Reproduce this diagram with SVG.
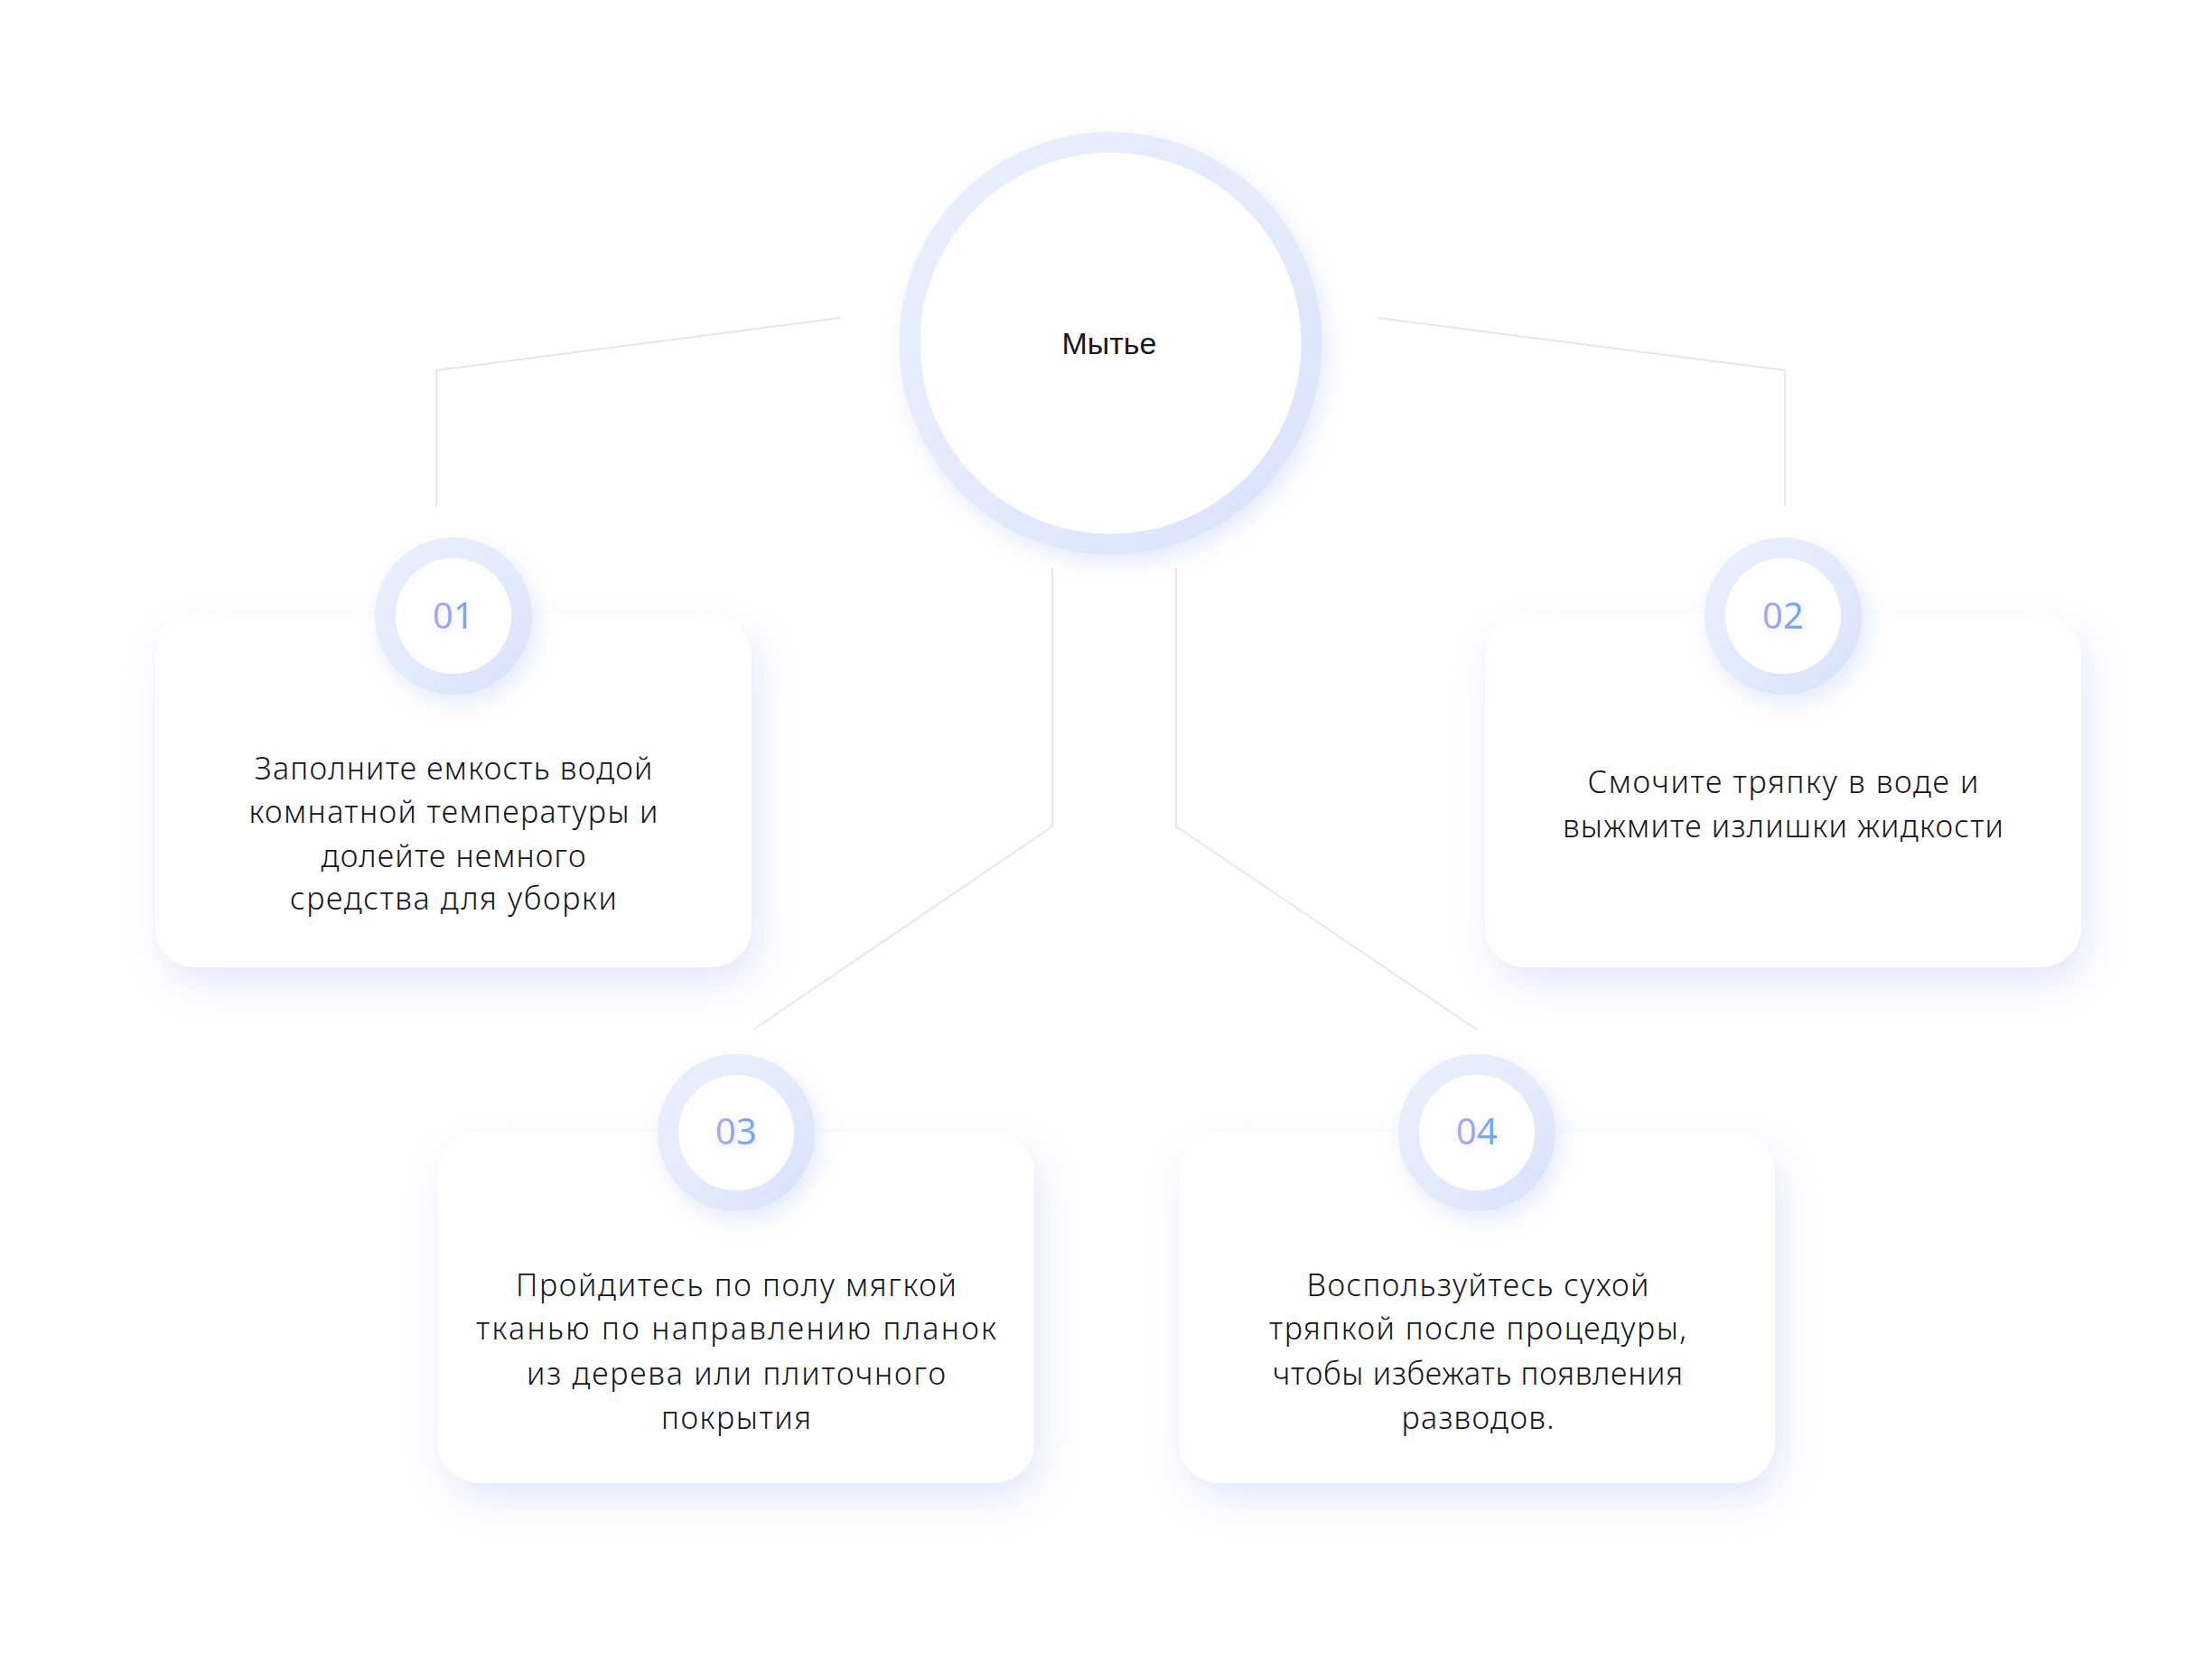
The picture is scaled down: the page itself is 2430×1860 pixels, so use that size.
<svg xmlns="http://www.w3.org/2000/svg" width="2430" height="1860" viewBox="0 0 2430 1860">
<defs>
<linearGradient id="ringG" x1="0" y1="0" x2="1" y2="1">
<stop offset="0" stop-color="#e9effd"/>
<stop offset="0.55" stop-color="#e4eafd"/>
<stop offset="1" stop-color="#d9e1fc"/>
</linearGradient>
<linearGradient id="numG" x1="0" y1="0" x2="1" y2="0">
<stop offset="0" stop-color="#bba2f7"/>
<stop offset="1" stop-color="#60a8f8"/>
</linearGradient>
<filter id="cardSh" x="-20%" y="-20%" width="140%" height="150%">
<feDropShadow dx="8" dy="18" stdDeviation="20" flood-color="#c3ccf8" flood-opacity="0.45"/>
</filter>
<filter id="ringSh" x="-30%" y="-30%" width="160%" height="160%">
<feDropShadow dx="6" dy="10" stdDeviation="12" flood-color="#c6cff8" flood-opacity="0.45"/>
</filter>
<filter id="numSh" x="-30%" y="-30%" width="160%" height="160%">
<feDropShadow dx="0" dy="3" stdDeviation="4" flood-color="#b8c2f0" flood-opacity="0.35"/>
</filter>
</defs>
<style>
.conn{fill:none;stroke:#e6e6e8;stroke-width:2}
.card{fill:#ffffff}
.ring{fill:#ffffff;stroke:url(#ringG);stroke-width:23}
.num{font-family:"Noto Sans","Liberation Sans",sans-serif;font-size:40px;font-weight:400;fill:url(#numG);text-anchor:middle}
.body{font-family:"Noto Sans","Liberation Sans",sans-serif;font-size:34px;font-weight:350;fill:#11161e;text-anchor:middle}
.title{font-family:"Liberation Sans","Noto Sans",sans-serif;font-size:34px;font-weight:400;fill:#141921;text-anchor:middle}
</style>
<rect width="2430" height="1860" fill="#ffffff"/>
<g id="connectors">
<path class="conn" d="M930,352 L483,410 L483,561"/>
<path class="conn" d="M1526,352 L1976,410 L1976,561"/>
<path class="conn" d="M1165,629 L1165,915 L834,1140"/>
<path class="conn" d="M1302,629 L1302,915 L1635,1140"/>
</g>
<g id="node-center">
<circle class="ring" cx="1229.5" cy="380" r="222.5" filter="url(#ringSh)"/>
<text class="title" x="1228" y="392">Мытье</text>
</g>
<g id="node-01">
<rect class="card" x="172" y="681" width="660" height="390" rx="45" filter="url(#cardSh)"/>
<circle class="ring" cx="502" cy="682" r="75.5" filter="url(#ringSh)"/>
<text class="num" x="502" y="696" filter="url(#numSh)">01</text>
<text class="body" x="502" y="863" textLength="441">Заполните емкость водой</text>
<text class="body" x="502" y="911" textLength="453">комнатной температуры и</text>
<text class="body" x="502" y="960" textLength="293">долейте немного</text>
<text class="body" x="502" y="1007" textLength="362">средства для уборки</text>
</g>
<g id="node-02">
<rect class="card" x="1644" y="681" width="660" height="390" rx="45" filter="url(#cardSh)"/>
<circle class="ring" cx="1974" cy="682" r="75.5" filter="url(#ringSh)"/>
<text class="num" x="1974" y="696" filter="url(#numSh)">02</text>
<text class="body" x="1974" y="878" textLength="433">Смочите тряпку в воде и</text>
<text class="body" x="1974" y="927" textLength="488">выжмите излишки жидкости</text>
</g>
<g id="node-03">
<rect class="card" x="485" y="1254" width="660" height="388" rx="45" filter="url(#cardSh)"/>
<circle class="ring" cx="815" cy="1254" r="75.5" filter="url(#ringSh)"/>
<text class="num" x="815" y="1267" filter="url(#numSh)">03</text>
<text class="body" x="815" y="1435" textLength="488">Пройдитесь по полу мягкой</text>
<text class="body" x="815" y="1483" textLength="576">тканью по направлению планок</text>
<text class="body" x="815" y="1533" textLength="464">из дерева или плиточного</text>
<text class="body" x="815" y="1582" textLength="166">покрытия</text>
</g>
<g id="node-04">
<rect class="card" x="1305" y="1254" width="660" height="388" rx="45" filter="url(#cardSh)"/>
<circle class="ring" cx="1635" cy="1254" r="75.5" filter="url(#ringSh)"/>
<text class="num" x="1635" y="1267" filter="url(#numSh)">04</text>
<text class="body" x="1636" y="1435" textLength="379">Воспользуйтесь сухой</text>
<text class="body" x="1636" y="1483" textLength="462">тряпкой после процедуры,</text>
<text class="body" x="1636" y="1533" textLength="454">чтобы избежать появления</text>
<text class="body" x="1636" y="1582" textLength="169">разводов.</text>
</g>
</svg>
